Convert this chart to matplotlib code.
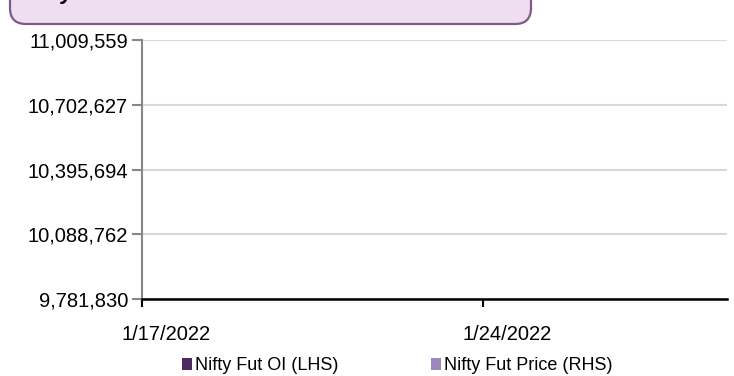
import numpy as np
import matplotlib
matplotlib.use('Agg')
import matplotlib.pyplot as plt
import matplotlib.dates as mdates
from matplotlib.patches import FancyBboxPatch, Patch
from datetime import date, timedelta

# data (the series are empty in the reference)
dates = [date(2022, 1, 17) + timedelta(days=i) for i in range(13)]
oi = [np.nan] * len(dates)
price = [np.nan] * len(dates)
series_names = ['Nifty Fut OI (LHS)', 'Nifty Fut Price (RHS)']
series_colors = ['#4e2a5e', '#9d87bd']
y_ticks = [9781830, 10088762, 10395694, 10702627, 11009559]
x_ticks = [date(2022, 1, 17), date(2022, 1, 24)]
x_labels = ['1/17/2022', '1/24/2022']

plt.rcParams['font.family'] = ['Liberation Sans', 'DejaVu Sans']

W, H = 734, 376
fig = plt.figure(figsize=(W / 100, H / 100), dpi=100)

# background layer in pixel units for the title box
bg = fig.add_axes([0, 0, 1, 1])
bg.set_xlim(0, W)
bg.set_ylim(H, 0)
bg.axis('off')
box = FancyBboxPatch((10, -40), 521, 64, boxstyle='round,pad=0,rounding_size=16',
                     fc='#eddff0', ec='#7d5a8c', lw=1.6, clip_on=False)
bg.add_patch(box)
bg.text(24, -1, 'Nifty Fut OI & Price', fontsize=16, fontweight='bold', fontstyle='italic',
        va='baseline', ha='left', color='black', clip_on=False)

ax = fig.add_axes([142 / W, 77 / H, 585 / W, 259 / H])
ax2 = ax.twinx()
ax.plot(dates, oi, color=series_colors[0])
ax2.plot(dates, price, color=series_colors[1])
ax2.axis('off')

ax.set_xlim(mdates.date2num(dates[0]), mdates.date2num(dates[-1]))
ax.set_ylim(y_ticks[0], y_ticks[-1])
ax.set_yticks(y_ticks)
ax.set_yticklabels([f'{v:,}' for v in y_ticks])
ax.yaxis.grid(True, color='#d9d9d9', lw=1.5)
ax.set_axisbelow(True)

xt = mdates.date2num(x_ticks)
ax.set_xticks(xt)
ax.set_xticklabels([])
ax.set_xticks(xt + 0.5, minor=True)
ax.set_xticklabels(x_labels, minor=True)
ax.tick_params(axis='x', which='major', length=6, width=1.5, color='black')
ax.tick_params(axis='x', which='minor', length=0, pad=19, labelsize=14.5)
ax.tick_params(axis='y', length=7, width=1.5, color='#868686', pad=3, labelsize=14.5)

for s in ['top', 'right']:
    ax.spines[s].set_visible(False)
ax.spines['left'].set_color('#868686')
ax.spines['left'].set_linewidth(1.5)
ax.spines['bottom'].set_color('black')
ax.spines['bottom'].set_linewidth(1.8)
ax.spines['bottom'].set_zorder(5)

handles = [Patch(fc=c, ec='none', label=n) for n, c in zip(series_names, series_colors)]
fig.legend(handles=handles, loc='center', bbox_to_anchor=(0.541, 0.027), ncol=2,
           frameon=False, fontsize=13, handlelength=0.6, handleheight=0.6,
           handletextpad=0.15, columnspacing=5.1, borderpad=0, borderaxespad=0)

fig.savefig('out.png', dpi=100)
